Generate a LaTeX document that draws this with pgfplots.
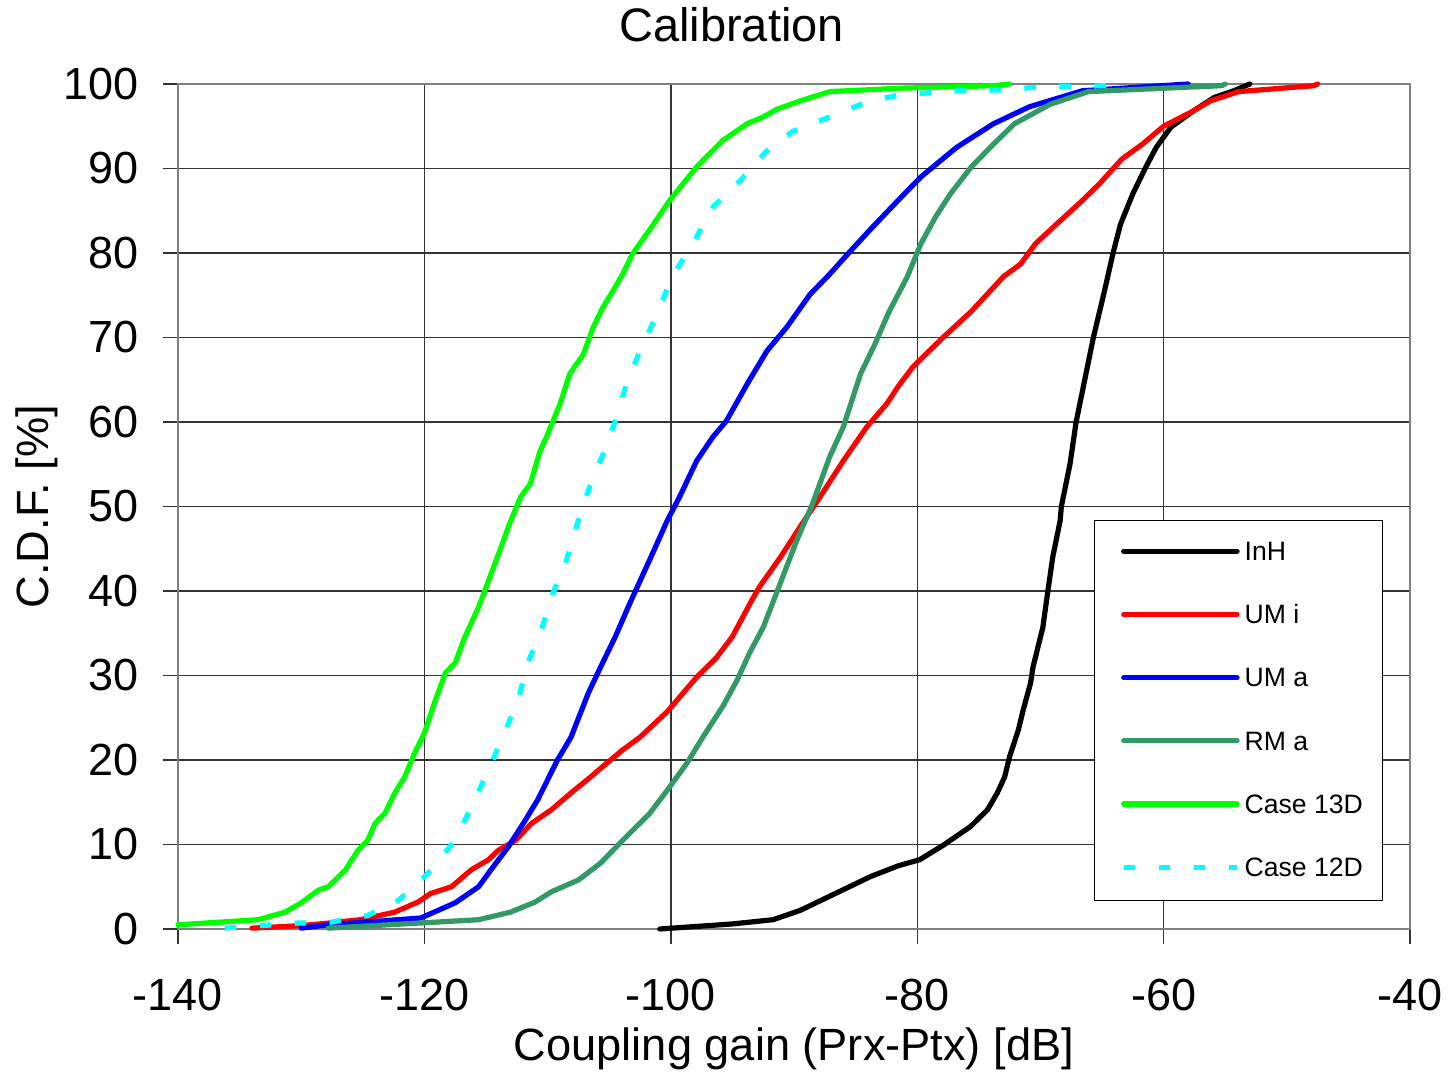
\documentclass[border=0pt]{standalone}
\usepackage{pgfplots}
\pgfplotsset{compat=1.18}
\usepackage{fontspec}
\setmainfont{Liberation Sans}
\definecolor{rmagreen}{RGB}{51,153,102}
\definecolor{brightgreen}{RGB}{0,255,0}
\definecolor{brightcyan}{RGB}{0,255,255}
\definecolor{axisgray}{RGB}{128,128,128}
\begin{document}
\begin{tikzpicture}
\begin{axis}[
  scale only axis, width=616pt, height=422.5pt,
  at={(0pt,0pt)}, anchor=south west,
  xmin=-140, xmax=-40, ymin=0, ymax=100,
  xtick={-140,-120,-100,-80,-60,-40},
  xticklabels={-140,-120,-100,-80,-60,-40},
  ytick={0,10,20,30,40,50,60,70,80,90,100},
  /pgf/number format/assume math mode=true,
  ticklabel style={font=\fontsize{22.5}{27}\selectfont, inner sep=0pt},
  xticklabel style={anchor=center, yshift=-25.75pt},
  yticklabel style={anchor=east, xshift=-12.5pt},
  xtick pos=left, ytick pos=left,
  tick align=center, major tick length=14.5pt,
  tick style={line width=0.7pt, draw=black!80},
  grid=major,
  major grid style={line width=0.7pt, draw=black!80},
  axis line style={line width=1pt, draw=axisgray},
  clip=false,
  title={Calibration},
  title style={at={([xshift=276.75pt,yshift=23.5pt]rel axis cs:0,1)}, anchor=center, font=\fontsize{23.5}{28}\selectfont},
  xlabel={Coupling gain (Prx-Ptx) [dB]},
  xlabel style={at={([yshift=-60pt]rel axis cs:0.5,0)}, anchor=center, font=\fontsize{22.6}{27}\selectfont},
  ylabel={C.D.F. [\%]},
  ylabel style={at={([xshift=-70.5pt]rel axis cs:0,0.5)}, anchor=center, font=\fontsize{22.6}{27}\selectfont},
  every axis plot/.append style={line width=2.6pt, line join=round},
  legend image code/.code={\path (0pt,0pt); \draw[#1] (5.3pt,4.65pt) -- (62pt,4.65pt);},
  legend style={at={(axis cs:-65.65,48.4)}, anchor=north west, draw=black, line width=0.5pt, fill=white,
    inner xsep=8pt, inner ysep=8.5pt, row sep=16.6pt, column sep=0.5pt,
    font=\fontsize{13.3}{15}\selectfont,
    cells={anchor=base west, inner sep=0pt, text height=9.5pt, text depth=7pt}},
]
% InH
\addplot[black, line cap=round] coordinates {
(-100.9,0) (-95,0.6) (-91.7,1.1) (-89.5,2.2) (-86.5,4.3) (-83.8,6.2) (-81.5,7.5) (-79.8,8.2)
(-77.9,9.9) (-75.7,12.1) (-74.3,14.1) (-73.5,16.1) (-72.9,18.0) (-72.5,20.4) (-71.8,23.5)
(-71.4,25.9) (-70.8,29.1) (-70.6,31) (-69.8,35.7) (-69.5,38.9) (-69.0,44) (-68.4,48.3)
(-68.3,50) (-67.6,55) (-67.1,60) (-66.4,65) (-65.7,70) (-64.8,75.5) (-64.1,80) (-63.5,83.4)
(-62.5,87) (-61.5,90) (-60.6,92.5) (-59.4,94.9) (-57.6,96.8) (-55.9,98.4) (-54.3,99.2) (-53,100)
};
\addlegendentry{InH}
% UMi
\addplot[red, line cap=round] coordinates {
(-134,0.1) (-130,0.4) (-127.8,0.7) (-125.2,1.1) (-122.4,2.0) (-120.5,3.2) (-119.5,4.2)
(-117.8,5.0) (-116.2,7.0) (-114.8,8.2) (-114,9.3) (-112.6,10.5) (-111.3,12.5) (-109.7,14.1)
(-108.1,16.1) (-106.5,18.0) (-105.3,19.5) (-103.9,21.2) (-102.5,22.7) (-100.3,25.7)
(-97.9,29.8) (-96.3,32.1) (-95,34.6) (-93.5,38.7) (-92.8,40.5) (-91.1,44) (-89.5,47.6)
(-87.9,51.1) (-86.0,55.4) (-84.1,59.4) (-82.5,62.1) (-81.5,64.3) (-80.3,66.6) (-77.9,70)
(-75.6,73.1) (-73.0,77.2) (-71.6,78.7) (-70.4,81.1) (-68.7,83.4) (-66.6,86.2) (-65.2,88.2)
(-63.4,91.1) (-61.7,92.9) (-60,95) (-57.6,96.8) (-56.2,98) (-53.9,99.1) (-47.8,99.8) (-47.5,100)
};
\addlegendentry{UM i}
% UMa
\addplot[blue, line cap=round] coordinates {
(-130,0.1) (-127.8,0.5) (-120.3,1.3) (-117.5,3.1) (-115.6,5) (-114.6,7.0) (-113.2,9.7)
(-111.8,12.9) (-110.8,15.3) (-109.2,20) (-108.1,22.7) (-106.7,27.9) (-105.7,31) (-104.5,34.6)
(-103.4,38.3) (-101.4,44.7) (-100.3,48.3) (-99.3,51.1) (-97.9,55.4) (-96.6,58.2) (-95.5,60.1)
(-93.8,64.5) (-92.2,68.4) (-90.6,71.2) (-88.7,75.1) (-87.1,77.5) (-85.5,80.1) (-83.6,83.1)
(-81.5,86.3) (-79.7,89) (-76.8,92.5) (-73.8,95.3) (-70.9,97.3) (-66.6,99.2) (-58,100)
};
\addlegendentry{UM a}
% RMa
\addplot[rmagreen, line cap=round] coordinates {
(-127.8,0.1) (-115.6,1.1) (-113,2.0) (-111,3.2) (-109.7,4.4) (-107.5,5.8) (-105.7,7.8)
(-103.9,10.5) (-101.7,13.7) (-100.3,16.4) (-98.7,19.6) (-97.4,22.7) (-95.8,26.3) (-94.6,29.5)
(-93.6,32.7) (-92.5,35.7) (-91.7,38.7) (-89.8,45.9) (-88.5,50.3) (-87.1,55.9) (-86.0,59.4)
(-84.6,65.7) (-83.5,69) (-82.3,73) (-80.8,77.2) (-79.7,81.1) (-78.5,84.3) (-77.3,87)
(-75.6,90.2) (-73.8,92.9) (-72.1,95.3) (-69.2,97.6) (-66.1,99.1) (-55.3,99.8) (-55,100)
};
\addlegendentry{RM a}
% Case 13D
\addplot[brightgreen, line cap=round] coordinates {
(-140,0.5) (-133.5,1.1) (-131.3,2.0) (-130,3.1) (-128.6,4.6) (-127.8,5) (-126.4,7.0)
(-125.4,9.3) (-124.6,10.5) (-124,12.5) (-123.2,13.7) (-122.4,16.1) (-121.6,18) (-120.8,20.8)
(-120,23.2) (-119.1,27.1) (-118.3,30.3) (-117.5,31.5) (-116.7,34.6) (-115.6,38.1) (-114.9,40.8)
(-113.9,44.7) (-113.1,47.9) (-112.2,51.1) (-111.4,52.7) (-110.6,56.6) (-110.1,58.2) (-109.0,62.1)
(-108.2,65.7) (-107.1,68) (-106.3,71.2) (-105.5,73.6) (-104.7,75.5) (-103.9,77.5) (-103.1,79.9)
(-101.4,83.4) (-100.1,86.2) (-99,88.2) (-97.9,90.2) (-95.8,93.3) (-93.8,95.3) (-92.5,96.1)
(-91.4,97.0) (-89.5,98) (-87.1,99.1) (-81.4,99.5) (-73.8,99.8) (-72.5,100)
};
\addlegendentry{Case 13D}
% Case 12D
\addplot[brightcyan, line cap=butt, dash pattern=on 5.8pt off 11.7pt] coordinates {
(-136.2,0.1) (-133.3,0.4) (-130.3,0.7) (-127.6,0.8) (-124.6,1.6) (-122.1,3.4) (-119.7,6.6)
(-117.5,10.5) (-116.2,14.4) (-114.8,18.8) (-113.5,23.2) (-112.4,27.1) (-111.6,31.5) (-110.5,35.4)
(-109.6,39.6) (-108.5,43.5) (-107.6,47.9) (-106.6,52.3) (-105.5,56.2) (-104.5,60.1) (-103.6,64.5)
(-102.5,68.4) (-101.1,72.8) (-99.9,77.2) (-98.2,81.1) (-96.6,85.4) (-94.4,88.5) (-92.2,92.1)
(-90.1,94.4) (-87.1,96.1) (-84.2,97.8) (-81.5,98.7) (-78.5,99) (-75.6,99.3) (-72.7,99.3)
(-69.8,99.7) (-64,99.8)
};
\addlegendentry{Case 12D}
\end{axis}
\pgfresetboundingbox
\useasboundingbox (-89pt,-71.5pt) rectangle (636pt,464.5pt);
\end{tikzpicture}
\end{document}
